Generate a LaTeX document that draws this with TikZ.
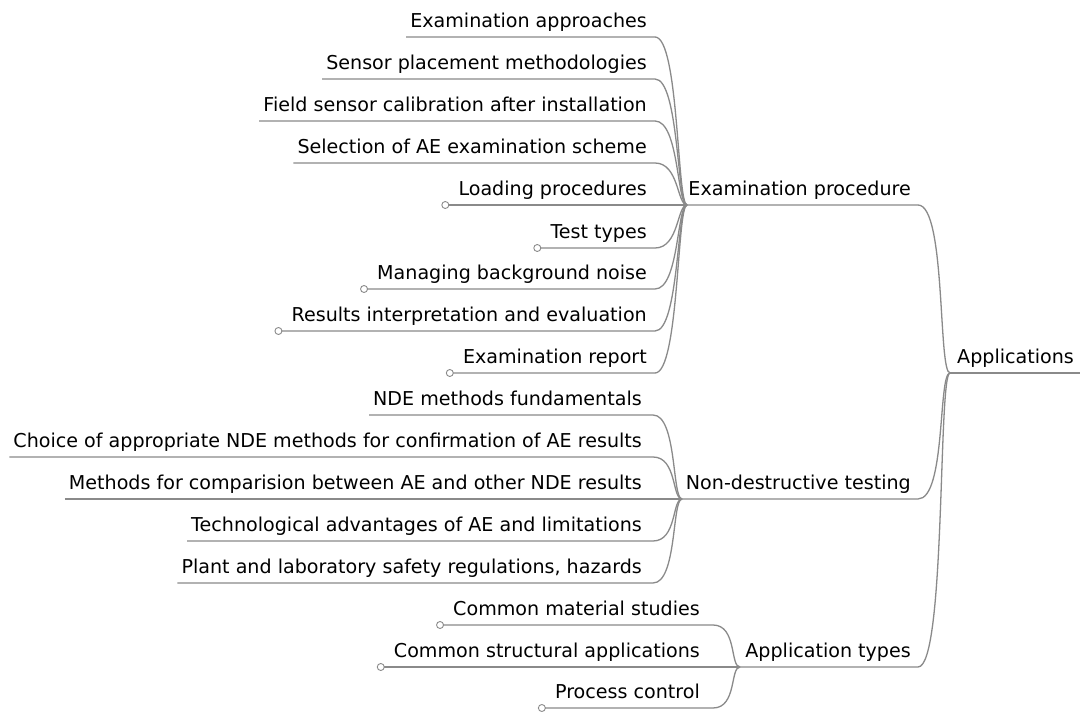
\documentclass[tikz,border=0pt]{standalone}
\usepackage{fontspec}
\setmainfont{DejaVu Sans}
\usetikzlibrary{calc}
\definecolor{linegray}{RGB}{138,138,138}
\newcommand\mmleaf[6]{% name, text right x, underline y, text, line right x, junction
  \node[txt, anchor=base east] (#1) at (#2,#3-9.5) {#4};
  \path (#1.base west) ++(-4,9.5) coordinate (#1-l);
  \coordinate (#1-r) at (#5,#3);
  \draw[conn] (#1-l) -- (#1-r) .. controls ($(#1-r)+(24,0)$) and ($(#6)+(-10,0)$) .. (#6);
}
\newcommand\mmleafk[6]{% same, with a collapse knob at the left end
  \node[txt, anchor=base east] (#1) at (#2,#3-9.5) {#4};
  \path (#1.base west) ++(-13,9.5) coordinate (#1-l);
  \coordinate (#1-r) at (#5,#3);
  \draw[conn] (#1-l) -- (#1-r) .. controls ($(#1-r)+(24,0)$) and ($(#6)+(-10,0)$) .. (#6);
  \node[knob] (#1-k) at (#1-l) {};
}
\begin{document}
\begin{tikzpicture}[x=1pt,y=-1pt,
  txt/.style={inner sep=0pt, font=\fontsize{19.1}{22}\selectfont, text=black},
  conn/.style={draw=linegray, line width=1.3pt},
  knob/.style={circle, draw=linegray, fill=white, line width=0.9pt, minimum size=7pt, inner sep=0pt}]
\useasboundingbox[fill=white] (0,0) rectangle (1080,714);

% root
\coordinate (root-j) at (950,373);
\node[txt, anchor=base west] (root) at (957,363.5) {Applications};
\coordinate (root-r) at (1080,373);
\draw[conn] (root-j) -- (root-r);

% main branches
\coordinate (ep-j) at (687,205);
\node[txt, anchor=base east] (ep) at (911,195.5) {Examination procedure};
\coordinate (ep-r) at (918,205);
\draw[conn] (ep-j) -- (ep-r) .. controls ($(ep-r)+(28,0)$) and ($(root-j)+(-12,0)$) .. (root-j);

\coordinate (nd-j) at (682,499);
\node[txt, anchor=base east] (nd) at (911,489.5) {Non-destructive testing};
\coordinate (nd-r) at (918,499);
\draw[conn] (nd-j) -- (nd-r) .. controls ($(nd-r)+(28,0)$) and ($(root-j)+(-12,0)$) .. (root-j);

\coordinate (at-j) at (740,667);
\node[txt, anchor=base east] (at) at (911,657.5) {Application types};
\coordinate (at-r) at (918,667);
\draw[conn] (at-j) -- (at-r) .. controls ($(at-r)+(28,0)$) and ($(root-j)+(-12,0)$) .. (root-j);

% Examination procedure
\mmleaf{ea}{647}{37}{Examination approaches}{655}{ep-j}
\mmleaf{sp}{647}{79}{Sensor placement methodologies}{655}{ep-j}
\mmleaf{fs}{647}{121}{Field sensor calibration after installation}{655}{ep-j}
\mmleaf{se}{647}{163}{Selection of AE examination scheme}{655}{ep-j}
\mmleafk{lp}{647}{205}{Loading procedures}{655}{ep-j}
\mmleafk{tt}{647}{248}{Test types}{655}{ep-j}
\mmleafk{mb}{647}{289}{Managing background noise}{655}{ep-j}
\mmleafk{ri}{647}{331}{Results interpretation and evaluation}{655}{ep-j}
\mmleafk{er}{647}{373}{Examination report}{655}{ep-j}

% Non-destructive testing
\mmleaf{nf}{642}{415}{NDE methods fundamentals}{653}{nd-j}
\mmleaf{ch}{642}{457}{Choice of appropriate NDE methods for confirmation of AE results}{653}{nd-j}
\mmleaf{mc}{642}{499}{Methods for comparision between AE and other NDE results}{653}{nd-j}
\mmleaf{ta}{642}{541}{Technological advantages of AE and limitations}{653}{nd-j}
\mmleaf{pl}{642}{583}{Plant and laboratory safety regulations, hazards}{653}{nd-j}

% Application types
\mmleafk{cm}{700}{625}{Common material studies}{713}{at-j}
\mmleafk{cs}{700}{667}{Common structural applications}{713}{at-j}
\mmleafk{pc}{700}{708}{Process control}{713}{at-j}
\end{tikzpicture}
\end{document}
